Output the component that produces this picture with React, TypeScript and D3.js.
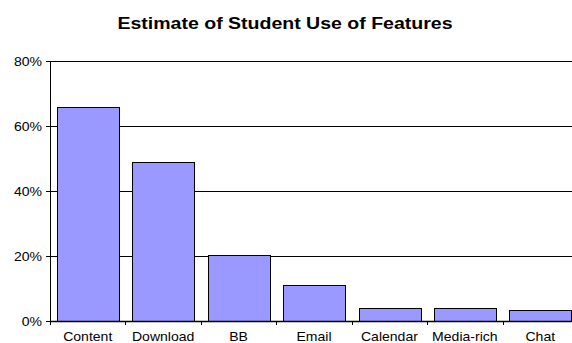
import React from "react";
import * as d3 from "d3";

const categories = ["Content", "Download", "BB", "Email", "Calendar", "Media-rich", "Chat"];
const usage = [65.9, 49.0, 20.4, 11.1, 3.9, 3.9, 3.3];
const yTicks = [0, 20, 40, 60, 80];
const title = "Estimate of Student Use of Features";

const W = 572;
const H = 343;
const plot = { left: 50, top: 61, right: 578, bottom: 321 };
const font = "'Liberation Sans', Arial, Helvetica, sans-serif";

export default function App() {
  const x = d3
    .scaleBand<string>()
    .domain(categories)
    .range([plot.left, plot.right])
    .paddingInner(0.18)
    .paddingOuter(0.09);
  const y = d3.scaleLinear().domain([0, 80]).range([plot.bottom, plot.top]);
  const step = (plot.right - plot.left) / categories.length;

  return (
    <div style={{ position: "absolute", left: 0, top: 0, width: W, height: H, background: "#fff" }}>
      <svg width={W} height={H} style={{ display: "block" }} fontFamily={font}>
        <rect width={W} height={H} fill="#fff" />
        <text
          transform={`translate(${W / 2 - 1},28.8) scale(1.17,1)`}
          textAnchor="middle"
          fontSize={16.7}
          fontWeight="bold"
          fill="#000"
        >
          {title}
        </text>

        {/* gridlines */}
        {yTicks.slice(1).map((t) => (
          <line
            key={`g${t}`}
            x1={plot.left}
            x2={plot.right}
            y1={Math.round(y(t)) + 0.5}
            y2={Math.round(y(t)) + 0.5}
            stroke="#000"
            strokeWidth={1}
          />
        ))}

        {/* bars */}
        {categories.map((c, i) => (
          <rect
            key={c}
            x={Math.round(x(c)!) + 0.5}
            y={Math.round(y(usage[i])) + 0.5}
            width={Math.round(x.bandwidth())}
            height={Math.round(y(0)) - Math.round(y(usage[i]))}
            fill="#9999FF"
            stroke="#000"
            strokeWidth={1}
          />
        ))}

        {/* y axis */}
        <line x1={plot.left + 0.5} x2={plot.left + 0.5} y1={plot.top} y2={plot.bottom + 1} stroke="#000" />
        {yTicks.map((t) => (
          <g key={`y${t}`}>
            <line
              x1={plot.left - 4}
              x2={plot.left}
              y1={Math.round(y(t)) + 0.5}
              y2={Math.round(y(t)) + 0.5}
              stroke="#000"
            />
            <text
              transform={`translate(${plot.left - 8},${y(t) + 4.7}) scale(1.08,1)`}
              textAnchor="end"
              fontSize={13}
              fill="#000"
            >
              {`${t}%`}
            </text>
          </g>
        ))}

        {/* x axis */}
        <line x1={plot.left} x2={plot.right} y1={plot.bottom + 0.5} y2={plot.bottom + 0.5} stroke="#000" strokeWidth={1.5} />
        {d3.range(categories.length + 1).map((i) => (
          <line
            key={`xt${i}`}
            x1={Math.round(plot.left + i * step) + 0.5}
            x2={Math.round(plot.left + i * step) + 0.5}
            y1={plot.bottom}
            y2={plot.bottom + 4}
            stroke="#000"
          />
        ))}
        {categories.map((c) => (
          <text
            key={`xl${c}`}
            transform={`translate(${x(c)! + x.bandwidth() / 2},341) scale(1.08,1)`}
            textAnchor="middle"
            fontSize={13}
            fill="#000"
          >
            {c}
          </text>
        ))}
      </svg>
    </div>
  );
}
